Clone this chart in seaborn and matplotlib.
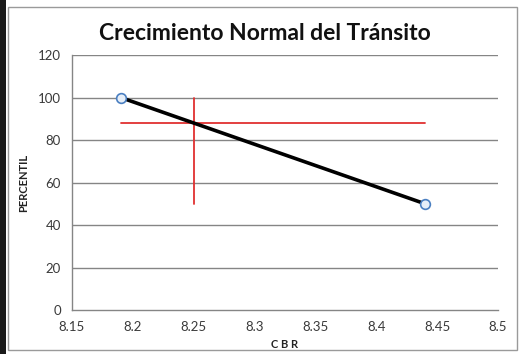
import matplotlib
matplotlib.use("Agg")
import matplotlib.pyplot as plt
import seaborn as sns
import pandas as pd
from matplotlib.patches import Rectangle

# Data
cbr = [8.19, 8.44]
percentil = [100, 50]
# Reading guides: design percentile and resulting CBR
guide_h_x = [8.19, 8.44]
guide_h_y = [88, 88]
guide_v_x = [8.25, 8.25]
guide_v_y = [50, 100]

x_ticks = [8.15, 8.2, 8.25, 8.3, 8.35, 8.4, 8.45, 8.5]
x_labels = ["8.15", "8.2", "8.25", "8.3", "8.35", "8.4", "8.45", "8.5"]
y_ticks = [0, 20, 40, 60, 80, 100, 120]

sns.set_theme(style="white")
plt.rcParams["font.family"] = ["Lato", "DejaVu Sans"]

fig = plt.figure(figsize=(5.19, 3.54), dpi=100)
ax = fig.add_axes([0.1387, 0.1243, 0.8208, 0.7203])

df = pd.DataFrame({"CBR": cbr, "PERCENTIL": percentil})

# Horizontal gridlines
for y in y_ticks[1:]:
    ax.axhline(y, color="#858585", lw=1.0, zorder=0)

sns.lineplot(data=df, x="CBR", y="PERCENTIL", ax=ax, color="black",
             lw=2.6, zorder=3)
ax.plot(cbr, percentil, ls="none", marker="o", ms=7,
        mfc="#e6eef8", mec="#4a7fc1", mew=1.2, zorder=4)

ax.plot(guide_h_x, guide_h_y, color="#e03030", lw=1.3, zorder=2)
ax.plot(guide_v_x, guide_v_y, color="#e03030", lw=1.3, zorder=2)

ax.set_xlim(8.15, 8.5)
ax.set_ylim(0, 120)
ax.set_xticks(x_ticks)
ax.set_xticklabels(x_labels)
ax.set_yticks(y_ticks)
ax.tick_params(axis="both", labelsize=9.5, direction="out", length=4,
               width=0.8, color="#858585", pad=4)
for lab in ax.get_xticklabels() + ax.get_yticklabels():
    lab.set_color("#3a3a3a")

for side in ["top", "right"]:
    ax.spines[side].set_visible(False)
for side in ["left", "bottom"]:
    ax.spines[side].set_color("#858585")
    ax.spines[side].set_linewidth(1.0)

ax.set_xlabel("C B R", fontsize=8, fontweight="bold", color="#222222", labelpad=4)
ax.set_ylabel("PERCENTIL", fontsize=8, fontweight="bold", color="#222222", labelpad=6)
fig.text(265 / 519, 1 - 33 / 354, "Crecimiento Normal del Tránsito",
         fontsize=16.5, fontweight="bold", color="#111111",
         ha="center", va="center")

# Frame and dark left border
fig.patches.append(Rectangle((8 / 519, 4 / 354), 509 / 519, 343 / 354,
                             transform=fig.transFigure, fill=False,
                             edgecolor="#9a9a9a", lw=1.0))
fig.patches.append(Rectangle((0, 0), 6 / 519, 1, transform=fig.transFigure,
                             facecolor="#1a1a1a", edgecolor="none"))

fig.savefig("out.png", dpi=100)
